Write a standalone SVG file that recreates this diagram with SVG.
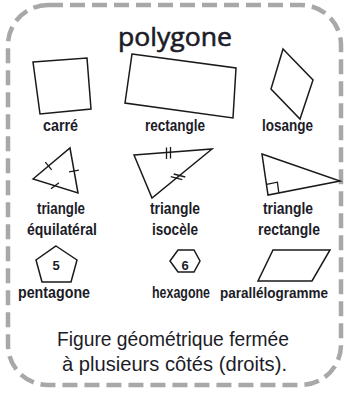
<svg xmlns="http://www.w3.org/2000/svg" width="344" height="394" viewBox="0 0 344 394">
<style>
.shape{fill:none;stroke:#1a1a1a;stroke-width:1.5;stroke-linejoin:miter}
.tick{stroke:#1a1a1a;stroke-width:1.3;fill:none}
.lbl{font-family:"Liberation Sans",Arial,sans-serif;font-size:16px;font-weight:bold;fill:#1c1c28;text-anchor:middle}
.num{font-family:"Liberation Sans",Arial,sans-serif;font-size:13px;font-weight:bold;fill:#1c1c28;text-anchor:middle}
.title{font-family:"Open Sans","Noto Sans",sans-serif;font-size:25px;fill:#1c1c28;stroke:#1c1c28;stroke-width:0.6;text-anchor:middle}
.desc{font-family:"Liberation Sans",Arial,sans-serif;font-size:21px;fill:#1c1c28;text-anchor:middle}
</style>
<rect width="344" height="394" fill="#ffffff"/>
<rect id="frame" x="8" y="5" width="333" height="380" rx="40" ry="40" fill="none" stroke="#a8a8a8" stroke-width="4.5" stroke-dasharray="15 7"/>
<text class="title" x="175" y="46" textLength="114" lengthAdjust="spacingAndGlyphs">polygone</text>

<g id="carre">
<polygon class="shape" points="33,62 87,58 91,109 40,114"/>
<text class="lbl" x="60.5" y="131" textLength="35" lengthAdjust="spacingAndGlyphs">carré</text>
</g>
<g id="rectangle">
<polygon class="shape" points="132,54 236,68 233,118 125,103"/>
<text class="lbl" x="175" y="131" textLength="60" lengthAdjust="spacingAndGlyphs">rectangle</text>
</g>
<g id="losange">
<polygon class="shape" points="283,49 313,80 300,119 271,89"/>
<text class="lbl" x="287.5" y="131" textLength="51" lengthAdjust="spacingAndGlyphs">losange</text>
</g>

<g id="triangle-equilateral">
<polygon class="shape" points="33,179 70,148 78,193"/>
<line class="tick" x1="45.3" y1="162.2" x2="51.7" y2="169.8"/>
<line class="tick" x1="69.1" y1="171.9" x2="78.9" y2="170.1"/>
<line class="tick" x1="51" y1="188.7" x2="59" y2="182.7"/>
<text class="lbl" x="61" y="214" textLength="48" lengthAdjust="spacingAndGlyphs">triangle</text>
<text class="lbl" x="62" y="235" textLength="70" lengthAdjust="spacingAndGlyphs">équilatéral</text>
</g>
<g id="triangle-isocele">
<polygon class="shape" points="134,155 212,149 152,198"/>
<line class="tick" x1="166.5" y1="147.5" x2="166.5" y2="159"/>
<line class="tick" x1="170.5" y1="147" x2="170.5" y2="158.5"/>
<line class="tick" x1="173.7" y1="174" x2="185.3" y2="177"/>
<line class="tick" x1="170.7" y1="176.6" x2="182.3" y2="179.6"/>
<text class="lbl" x="175" y="214" textLength="50" lengthAdjust="spacingAndGlyphs">triangle</text>
<text class="lbl" x="175" y="235" textLength="46" lengthAdjust="spacingAndGlyphs">isocèle</text>
</g>
<g id="triangle-rectangle">
<polygon class="shape" points="262,154 340,181 268,195"/>
<polyline class="tick" points="266.6,184.3 277.4,182.2 278.8,192.9"/>
<text class="lbl" x="288" y="214" textLength="50" lengthAdjust="spacingAndGlyphs">triangle</text>
<text class="lbl" x="289" y="235" textLength="62" lengthAdjust="spacingAndGlyphs">rectangle</text>
</g>

<g id="pentagone">
<polygon class="shape" points="56,246 77,260 71,282 42,282 36,260"/>
<text class="num" x="56" y="270">5</text>
<text class="lbl" x="54" y="298" textLength="72" lengthAdjust="spacingAndGlyphs">pentagone</text>
</g>
<g id="hexagone">
<polygon class="shape" points="170,261 178,250 194,250 200,261 194,272 178,272"/>
<text class="num" x="185" y="270">6</text>
<text class="lbl" x="181" y="298" textLength="58" lengthAdjust="spacingAndGlyphs">hexagone</text>
</g>
<g id="parallelogramme">
<polygon class="shape" points="273,250 330,250 312,281 258,281"/>
<text class="lbl" x="274" y="298" style="font-size:14.5px" textLength="108" lengthAdjust="spacingAndGlyphs">parallélogramme</text>
</g>

<g id="definition">
<text class="desc" x="173" y="346" textLength="232" lengthAdjust="spacingAndGlyphs">Figure géométrique fermée</text>
<text class="desc" x="174.5" y="371" textLength="225" lengthAdjust="spacingAndGlyphs">à plusieurs côtés (droits).</text>
</g>
</svg>
